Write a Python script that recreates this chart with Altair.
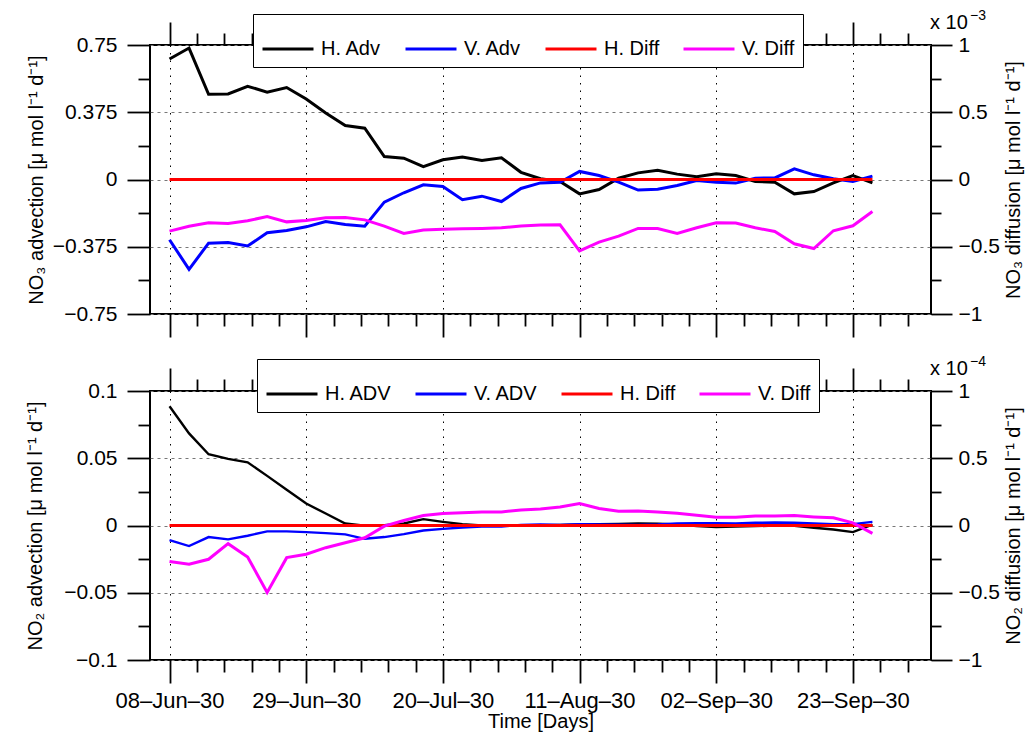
import altair as alt
import pandas as pd

FONT = "Liberation Sans, Arial, Helvetica, sans-serif"

# sampling days (every 3 days from 08-Jun-30)
days = [0, 3, 6, 9, 12, 15, 18, 21, 24, 27, 30, 33, 36, 39, 42, 45, 48, 51, 54,
        57, 60, 63, 66, 69, 72, 75, 78, 81, 84, 87, 90, 93, 96, 99, 102, 105, 108]

x_major = [0, 21, 42, 63, 84, 105]
x_labels = ["08–Jun–30", "29–Jun–30", "20–Jul–30", "11–Aug–30", "02–Sep–30", "23–Sep–30"]
x_minor = [4.2, 8.4, 12.6, 16.8, 25.2, 29.4, 33.6, 37.8, 46.2, 50.4, 54.6, 58.8,
           67.2, 71.4, 75.6, 79.8, 88.2, 92.4, 96.6, 100.8, 109.2, 113.4]

# ---- NO3 panel ----
no3_names = ["H. Adv", "V. Adv", "H. Diff", "V. Diff"]
no3_h_adv = [0.672, 0.733, 0.475, 0.477, 0.520, 0.487, 0.513, 0.449, 0.371, 0.301,
             0.286, 0.128, 0.119, 0.072, 0.110, 0.126, 0.106, 0.121, 0.040, 0.004,
             -0.011, -0.080, -0.056, 0.007, 0.037, 0.052, 0.030, 0.015, 0.032, 0.022,
             -0.011, -0.015, -0.080, -0.067, -0.019, 0.022, -0.019]
no3_v_adv = [-0.336, -0.501, -0.355, -0.351, -0.371, -0.297, -0.284, -0.264, -0.234, -0.251,
             -0.260, -0.126, -0.074, -0.030, -0.039, -0.113, -0.093, -0.123, -0.050, -0.019,
             -0.015, 0.045, 0.022, -0.015, -0.059, -0.054, -0.033, -0.006, -0.015, -0.020,
             0.007, 0.009, 0.059, 0.026, 0.004, -0.011, 0.019]
# diffusion in units of 1e-3
no3_h_diff = [0, 0, 0, 0, 0, 0, 0, 0, 0, 0, 0, 0, 0, 0, 0, 0, 0, 0, 0,
              0, 0, 0, 0, 0, 0, 0, 0, 0, 0, 0, 0, 0, 0, 0, 0, 0, 0]
no3_v_diff = [-0.384, -0.347, -0.322, -0.327, -0.307, -0.275, -0.315, -0.305, -0.285, -0.282,
              -0.300, -0.347, -0.401, -0.376, -0.369, -0.367, -0.364, -0.359, -0.345, -0.339,
              -0.337, -0.530, -0.466, -0.421, -0.364, -0.364, -0.401, -0.359, -0.322, -0.324,
              -0.359, -0.386, -0.478, -0.513, -0.381, -0.344, -0.238]

# ---- NO2 panel ----
no2_names = ["H. ADV", "V. ADV", "H. Diff", "V. Diff"]
no2_h_adv = [0.0887, 0.0685, 0.0530, 0.0495, 0.0470, 0.0369, 0.0266, 0.0163, 0.0089, 0.0015,
             -0.0002, 0.0002, 0.0015, 0.0047, 0.0027, 0.0010, 0.0000, 0.0000, 0.0000, 0.0003,
             0.0005, 0.0008, 0.0010, 0.0012, 0.0015, 0.0014, 0.0008, -0.0005, -0.0012, -0.0008,
             -0.0005, 0.0000, -0.0002, -0.0017, -0.0030, -0.0049, 0.0007]
no2_v_adv = [-0.0108, -0.0153, -0.0086, -0.0103, -0.0076, -0.0044, -0.0044, -0.0049, -0.0057, -0.0066,
             -0.0099, -0.0086, -0.0064, -0.0037, -0.0025, -0.0015, -0.0007, -0.0007, 0.0005, 0.0007,
             0.0005, 0.0010, 0.0008, 0.0006, 0.0005, 0.0008, 0.0015, 0.0017, 0.0017, 0.0015,
             0.0020, 0.0022, 0.0020, 0.0015, 0.0010, 0.0010, 0.0027]
# diffusion in units of 1e-4
no2_h_diff = [0, 0, 0, 0, 0, 0, 0, 0, 0, 0, 0, 0, 0, 0, 0, 0, 0, 0, 0,
              0, 0, 0, 0, 0, 0, 0, 0, 0, 0, 0, 0, 0, 0, 0, 0, 0, 0]
no2_v_diff = [-0.268, -0.288, -0.251, -0.135, -0.234, -0.498, -0.239, -0.214, -0.165, -0.128,
              -0.091, -0.005, 0.037, 0.074, 0.089, 0.094, 0.101, 0.101, 0.115, 0.123,
              0.138, 0.163, 0.126, 0.106, 0.108, 0.101, 0.091, 0.076, 0.062, 0.062,
              0.071, 0.071, 0.074, 0.064, 0.057, 0.020, -0.059]

no3_left_major = [-0.75, -0.375, 0, 0.375, 0.75]
no3_left_all = [-0.75, -0.5625, -0.375, -0.1875, 0, 0.1875, 0.375, 0.5625, 0.75]
no2_left_major = [-0.1, -0.05, 0, 0.05, 0.1]
no2_left_all = [-0.1, -0.075, -0.05, -0.025, 0, 0.025, 0.05, 0.075, 0.1]
right_major = [-1, -0.5, 0, 0.5, 1]
right_all = [-1, -0.75, -0.5, -0.25, 0, 0.25, 0.5, 0.75, 1]

COLORS = ["#000000", "#0000ff", "#ff0000", "#ff00ff"]
W, H = 781, 269
MAJ, MIN = 23, 12


def js_list(vals):
    return "[" + ",".join(repr(v) for v in vals) + "]"


def is_major(vals):
    return f"indexof({js_list(vals)}, datum.value) >= 0"


def x_label_expr():
    expr = "''"
    for v, l in reversed(list(zip(x_major, x_labels))):
        expr = f"datum.value == {v} ? '{l}' : ({expr})"
    return expr


def long_df(names, series):
    rows = []
    for n, vals in zip(names, series):
        for d, v in zip(days, vals):
            rows.append({"day": d, "series": n, "value": v})
    return pd.DataFrame(rows)


def make_panel(names, adv, diff, left_major, left_all, left_title, right_title,
               exp_text, show_x_labels, left_title_pad, legend_x, legend_y, adv_width):
    x_ticks = sorted(x_major + x_minor)
    xscale = alt.Scale(domain=[-3, 117], nice=False, zero=False)
    color = alt.Color(
        "series:N",
        sort=names,
        scale=alt.Scale(domain=names, range=COLORS),
        legend=alt.Legend(
            title=None, orient="none", legendX=legend_x, legendY=legend_y,
            direction="horizontal", columns=4, symbolType="stroke",
            symbolSize=2600, symbolStrokeWidth=3, labelFontSize=20, labelFont=FONT,
            labelColor="black", columnPadding=17, padding=8, labelOffset=6,
            strokeColor="black", fillColor="white", labelLimit=200,
        ),
    )
    x_tick_size = {"condition": {"test": is_major(x_major), "value": MAJ}, "value": MIN}
    x_grid_op = {"condition": {"test": is_major(x_major), "value": 1}, "value": 0}

    left = alt.Chart(long_df(names[:2], adv)).mark_line(strokeWidth=adv_width).encode(
        x=alt.X("day:Q", scale=xscale, axis=alt.Axis(
            orient="bottom", values=x_ticks, tickSize=x_tick_size,
            labels=show_x_labels, labelExpr=x_label_expr(), labelOverlap=False,
            labelFlush=False, labelPadding=7, labelFontSize=22,
            title="Time [Days]" if show_x_labels else None, titlePadding=0,
            grid=True, gridOpacity=x_grid_op, gridColor="#000000", gridDash=[1.5, 6],
            gridWidth=1, domain=False,
        )),
        y=alt.Y("value:Q", scale=alt.Scale(domain=[left_all[0], left_all[-1]], nice=False, zero=False),
                axis=alt.Axis(
                    orient="left", values=left_all,
                    labelExpr=f"{is_major(left_major)} ? format(datum.value, '~g') : ''",
                    tickSize={"condition": {"test": is_major(left_major), "value": MAJ}, "value": MIN},
                    labelOverlap=False, labelFlush=False, labelPadding=10,
                    title=left_title, titlePadding=left_title_pad,
                    grid=True, gridOpacity={"condition": {"test": is_major(left_major), "value": 1}, "value": 0},
                    gridColor="#777777", gridDash=[3, 4], gridWidth=1, domain=False,
                )),
        color=color,
    )

    right = alt.Chart(long_df(names[2:], diff)).mark_line(strokeWidth=3).encode(
        x=alt.X("day:Q", scale=xscale, axis=alt.Axis(
            orient="top", values=x_ticks, tickSize=x_tick_size, labels=False,
            title=None, grid=False, domain=False,
        )),
        y=alt.Y("value:Q", scale=alt.Scale(domain=[-1, 1], nice=False, zero=False),
                axis=alt.Axis(
                    orient="right", values=right_all,
                    labelExpr=f"{is_major(right_major)} ? format(datum.value, '~g') : ''",
                    tickSize={"condition": {"test": is_major(right_major), "value": 21}, "value": 10},
                    labelOverlap=False, labelFlush=False, labelPadding=6,
                    title=right_title, titleAngle=270, titleBaseline="top", titlePadding=4,
                    grid=False, domain=False,
                )),
        color=color,
    )

    t1 = alt.Chart(pd.DataFrame({"t": ["x 10"]})).mark_text(
        font=FONT, fontSize=20, align="left", baseline="alphabetic", color="black"
    ).encode(text="t:N", x=alt.value(W - 1), y=alt.value(-16))
    t2 = alt.Chart(pd.DataFrame({"t": [exp_text]})).mark_text(
        font=FONT, fontSize=14, align="left", baseline="alphabetic", color="black"
    ).encode(text="t:N", x=alt.value(W + 39), y=alt.value(-25))

    return alt.layer(left, right, t1, t2).resolve_scale(y="independent").resolve_axis(
        x="independent", y="independent"
    ).properties(width=W, height=H)


top = make_panel(no3_names, [no3_h_adv, no3_v_adv], [no3_h_diff, no3_v_diff],
                 no3_left_major, no3_left_all,
                 "NO₃ advection [μ mol l⁻¹ d⁻¹]", "NO₃ diffusion [μ mol l⁻¹ d⁻¹]",
                 "−3", False, 6, 103, -31, 3)
bottom = make_panel(no2_names, [no2_h_adv, no2_v_adv], [no2_h_diff, no2_v_diff],
                    no2_left_major, no2_left_all,
                    "NO₂ advection [μ mol l⁻¹ d⁻¹]", "NO₂ diffusion [μ mol l⁻¹ d⁻¹]",
                    "−4", True, 18, 107, -32, 2.4)

chart = alt.vconcat(top, bottom, spacing=15).resolve_scale(
    color="independent"
).resolve_legend(color="independent").properties(
    padding={"left": 16, "top": 0, "right": 0, "bottom": 0},
    background="white",
).configure_view(stroke="black", strokeWidth=2).configure_axis(
    labelFont=FONT, labelFontSize=21, labelColor="black",
    titleFont=FONT, titleFontSize=20, titleFontWeight="normal", titleColor="black",
    tickColor="black", tickWidth=1.8,
)

chart.save("out.html", embed_options={"renderer": "svg", "actions": False})
